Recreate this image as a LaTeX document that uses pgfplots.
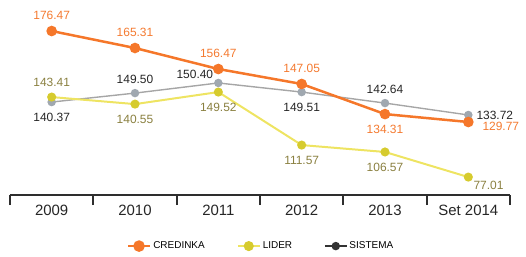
\documentclass[border=0pt]{standalone}
\usepackage{pgfplots}
\pgfplotsset{compat=1.18}
\usepackage{fontspec}
\setmainfont{Liberation Sans}
\definecolor{corange}{HTML}{F5772A}
\definecolor{corangetxt}{HTML}{F47A30}
\definecolor{cyellow}{HTML}{EEE462}
\definecolor{cyellowmk}{HTML}{D6CB2E}
\definecolor{cyellowtxt}{HTML}{8A8040}
\definecolor{cgray}{HTML}{A6A6A6}
\definecolor{cgraymk}{HTML}{A0A8B0}
\definecolor{caxis}{HTML}{2E2E2E}

\pgfplotsset{
  lbl/.style n args={3}{forget plot, draw=none, mark=none, nodes near coords,
    point meta=explicit symbolic,
    nodes near coords style={text=#1, anchor=#2, #3, font=\fontsize{12}{14}\selectfont, inner sep=2bp}},
  limg/.style={legend image code/.code={\draw[mark repeat=2,mark phase=2] plot coordinates {(0bp,0bp)(11bp,0bp)(22bp,0bp)};}},
}

\begin{document}
\begin{tikzpicture}[x=1bp,y=1bp]
\path[use as bounding box] (-10bp,-62bp) rectangle (516bp,195bp);
\begin{axis}[
  at={(0,0)}, anchor=south west,
  scale only axis,
  width=500bp, height=195bp,
  xmin=-0.5, xmax=5.5,
  ymin=64.8, ymax=197.6,
  clip=false,
  axis x line=bottom,
  axis y line=none,
  axis line style={caxis, line width=1.6bp, -},
  xtick={0,1,2,3,4,5},
  xticklabels={2009,2010,2011,2012,2013,Set 2014},
  major tick length=0pt,
  minor xtick={-0.5,0.5,1.5,2.5,3.5,4.5,5.5},
  minor tick length=10bp,
  tick align=outside,
  minor tick style={caxis, line width=1.8bp},
  xticklabel style={font=\fontsize{15}{17}\selectfont, text=black!85, yshift=-7bp},
  legend style={at={(0.502,-0.262)}, anchor=center, draw=none, fill=none,
    font=\fontsize{10}{12}\selectfont, /tikz/every even column/.append style={column sep=30bp}},
  legend columns=3,
]
% lines (heights)
\addplot[forget plot, color=cgray, line width=1.4bp, mark=*, mark size=3.5bp,
  mark options={fill=cgraymk, draw=cgraymk}]
  coordinates {(0,128.1) (1,134.2) (2,141.1) (3,134.9) (4,127.4) (5,119.3)};
\addplot[forget plot, color=cyellow, line width=2bp, mark=*, mark size=3.5bp,
  mark options={fill=cyellowmk, draw=cyellowmk}]
  coordinates {(0,131.5) (1,126.7) (2,134.9) (3,98.8) (4,94.1) (5,77.0)};
\addplot[forget plot, color=corange, line width=2.5bp, mark=*, mark size=4bp,
  mark options={fill=corange, draw=corange}]
  coordinates {(0,176.47) (1,164.9) (2,150.6) (3,140.4) (4,119.9) (5,114.5)};
% data labels
\addplot[lbl={corangetxt}{south}{yshift=9bp}] coordinates {(0,176.47) [176.47] (1,164.9) [165.31] (2,150.6) [156.47] (3,140.4) [147.05]};
\addplot[lbl={corangetxt}{north}{yshift=-9bp}] coordinates {(4,119.9) [134.31]};
\addplot[lbl={corangetxt}{west}{xshift=12bp,yshift=-4bp}] coordinates {(5,114.5) [129.77]};
\addplot[lbl={cyellowtxt}{south}{yshift=8bp}] coordinates {(0,131.5) [143.41]};
\addplot[lbl={cyellowtxt}{north}{yshift=-9bp}] coordinates {(1,126.7) [140.55] (2,134.9) [149.52] (3,98.8) [111.57] (4,94.1) [106.57]};
\addplot[lbl={cyellowtxt}{north west}{xshift=3bp,yshift=-2bp}] coordinates {(5,77.0) [77.01]};
\addplot[lbl={black!85}{north}{yshift=-9bp}] coordinates {(0,128.1) [140.37] (3,134.9) [149.51]};
\addplot[lbl={black!85}{south}{yshift=7bp}] coordinates {(1,134.2) [149.50] (4,127.4) [142.64]};
\addplot[lbl={black!85}{south east}{xshift=-3bp,yshift=2bp}] coordinates {(2,141.1) [150.40]};
\addplot[lbl={black!85}{west}{xshift=6bp}] coordinates {(5,119.3) [133.72]};
\addlegendimage{limg, color=corange, line width=2.5bp, mark=*, mark size=4.5bp, mark options={fill=corange, draw=corange}}
\addlegendentry{CREDINKA}
\addlegendimage{limg, color=cyellow, line width=2bp, mark=*, mark size=4bp, mark options={fill=cyellowmk, draw=cyellowmk}}
\addlegendentry{LIDER}
\addlegendimage{limg, color=black!80, line width=1.4bp, mark=*, mark size=3.5bp, mark options={fill=black!80, draw=black!80}}
\addlegendentry{SISTEMA}
\end{axis}
\end{tikzpicture}
\end{document}
